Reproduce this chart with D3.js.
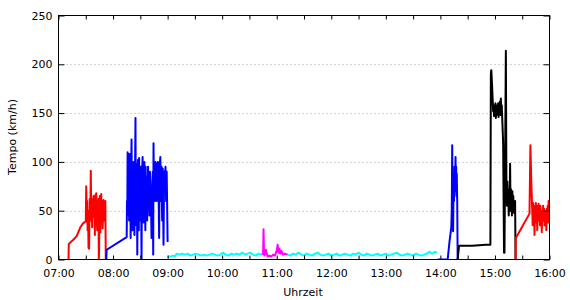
<!DOCTYPE html>
<html><head><meta charset="utf-8">
<script src="https://cdn.jsdelivr.net/npm/d3@7"></script>
<style>
html,body{margin:0;padding:0;background:#fff;}
svg{display:block;font-family:"DejaVu Sans",Verdana,sans-serif;}
</style></head>
<body>
<svg id="chart" width="570" height="300"></svg>
<script>
// ---- data ----
const xTickLabels = ["07:00","08:00","09:00","10:00","11:00","12:00","13:00","14:00","15:00","16:00"];
const yTickValues = [0, 50, 100, 150, 200, 250];
const gridValues = [50, 100, 150, 200];
const timeDomain = ["07:00:00", "16:00:00"];
const speedDomain = [0, 250];

const red1 = [
["07:11:00",0],["07:11:20",16],["07:16:00",20],["07:20:00",24],["07:24:00",33],["07:27:00",37],["07:30:00",39],
["07:30:30",75],["07:31:00",45],["07:31:30",60],["07:32:00",30],["07:32:30",50],["07:33:00",12],["07:33:40",11],
["07:34:20",62],["07:35:00",40],["07:35:30",91],["07:36:00",45],["07:36:30",62],["07:37:00",33],["07:37:30",58],
["07:38:00",44],["07:38:30",65],["07:39:00",48],["07:39:30",62],["07:40:00",25],["07:40:30",66],["07:41:00",38],
["07:41:30",68],["07:42:00",50],["07:42:30",30],["07:43:00",60],["07:43:30",45],["07:44:00",62],["07:44:20",0],
["07:44:40",10],["07:45:00",40],["07:45:30",65],["07:46:00",28],["07:46:30",58],["07:47:00",67],["07:47:30",45],
["07:48:00",60],["07:48:30",32],["07:49:00",55],["07:49:30",61],["07:50:00",40],["07:50:30",58],["07:51:00",45],
["07:51:30",60],["07:52:00",0]
];
const blue1 = [
["07:52:30",0],["07:53:00",10],["08:15:00",23],["08:15:20",60],["08:15:40",45],["08:16:00",110],["08:16:20",55],
["08:16:40",95],["08:17:00",70],["08:17:20",108],["08:17:40",40],["08:18:00",90],["08:18:20",60],["08:18:40",108],
["08:19:00",75],["08:19:20",22],["08:19:40",50],["08:20:00",95],["08:20:20",123],["08:20:40",45],["08:21:00",95],
["08:21:20",30],["08:21:40",80],["08:22:00",60],["08:22:20",100],["08:22:40",40],["08:23:00",90],["08:23:30",25],
["08:24:00",70],["08:24:40",145],["08:25:00",55],["08:25:20",98],["08:25:40",35],["08:26:00",85],["08:26:20",60],
["08:26:40",5],["08:27:00",70],["08:27:20",102],["08:27:40",45],["08:28:00",88],["08:28:20",30],["08:28:40",104],
["08:29:00",55],["08:29:20",95],["08:29:40",40],["08:30:00",80],["08:30:20",60],["08:30:40",95],["08:31:00",45],
["08:31:20",0],["08:31:40",65],["08:32:00",90],["08:32:30",105],["08:32:50",50],["08:33:10",95],["08:33:30",38],
["08:33:50",85],["08:34:10",60],["08:34:30",100],["08:34:50",45],["08:35:10",78],["08:35:30",30],["08:35:50",95],
["08:36:10",50],["08:36:40",85],["08:37:00",65],["08:37:30",40],["08:38:00",72],["08:38:30",95],["08:39:00",55],
["08:39:30",80],["08:40:00",45],["08:40:30",90],["08:41:00",80],["08:41:40",60],["08:42:20",22],["08:43:00",60],
["08:43:40",90],["08:44:10",5],["08:44:30",119],["08:45:00",70],["08:45:30",100],["08:46:00",60],["08:46:40",100],
["08:47:20",97],["08:48:00",60],["08:48:40",92],["08:49:20",100],["08:50:00",75],["08:50:40",22],["08:51:20",96],
["08:52:00",105],["08:52:40",60],["08:53:20",95],["08:54:00",40],["08:54:40",93],["08:55:30",15],["08:56:10",90],
["08:56:50",80],["08:57:40",95],["08:58:20",60],["08:59:00",90],["09:00:00",18]
];
const cyan1 = [
["09:00:00",3],["09:03:00",3],["09:06:00",4],["09:08:00",3],["09:10:00",6],["09:13:00",5],["09:16:00",6],
["09:19:00",5],["09:22:00",6],["09:25:00",4],["09:28:00",5],["09:31:00",6],["09:34:00",5],["09:37:00",4],
["09:40:00",5],["09:43:00",4],["09:46:00",5],["09:49:00",6],["09:52:00",5],["09:55:00",4],["09:58:00",5],
["10:01:00",7],["10:04:00",5],["10:07:00",4],["10:10:00",6],["10:13:00",5],["10:16:00",6],["10:19:00",5],
["10:22:00",7],["10:25:00",5],["10:28:00",6],["10:31:00",7],["10:34:00",5],["10:37:00",4],["10:40:00",6],
["10:43:00",5],["10:44:00",5]
];
const magenta = [
["10:44:00",5],["10:45:00",6],["10:45:30",31],["10:46:00",8],["10:46:30",4],["10:47:00",6],["10:48:00",10],
["10:49:00",6],["10:50:00",3],["10:52:00",4],["10:54:00",3],["10:56:00",5],["10:58:00",4],["11:00:00",9],
["11:01:00",15],["11:02:00",7],["11:03:00",11],["11:04:00",6],["11:05:00",9],["11:07:00",5],["11:09:00",6],
["11:12:00",5]
];
const cyan2 = [
["11:12:00",5],["11:15:00",4],["11:18:00",6],["11:21:00",5],["11:24:00",7],["11:27:00",5],["11:30:00",4],
["11:33:00",6],["11:36:00",5],["11:39:00",4],["11:42:00",6],["11:45:00",7],["11:48:00",5],["11:51:00",4],
["11:54:00",5],["11:57:00",6],["12:00:00",4],["12:03:00",5],["12:06:00",6],["12:09:00",4],["12:12:00",5],
["12:15:00",6],["12:18:00",5],["12:21:00",4],["12:24:00",6],["12:27:00",5],["12:30:00",7],["12:33:00",5],
["12:36:00",4],["12:39:00",6],["12:42:00",5],["12:45:00",4],["12:48:00",5],["12:51:00",6],["12:54:00",4],
["12:57:00",5],["13:00:00",6],["13:03:00",4],["13:06:00",5],["13:09:00",6],["13:12:00",7],["13:15:00",5],
["13:18:00",4],["13:21:00",5],["13:24:00",6],["13:27:00",5],["13:30:00",4],["13:33:00",6],["13:36:00",5],
["13:39:00",4],["13:42:00",5],["13:45:00",6],["13:48:00",8],["13:51:00",6],["13:54:00",8],["13:56:00",7]
];
const blue2 = [
["13:57:00",0],["14:08:00",0],["14:10:00",18],["14:12:00",33],["14:12:30",50],["14:13:00",117],["14:13:30",45],
["14:14:00",29],["14:14:30",80],["14:15:00",60],["14:15:30",95],["14:16:00",70],["14:16:40",105],["14:17:00",75],
["14:17:20",95],["14:17:40",65],["14:18:00",88],["14:18:30",60],["14:19:00",0]
];
const black = [
["14:19:00",0],["14:20:30",14],["14:35:00",14],["14:50:00",15],["14:55:00",15],["14:55:30",190],["14:56:00",194],
["14:56:30",185],["14:57:00",175],["14:58:00",152],["14:58:30",158],["14:59:00",147],["14:59:30",155],
["15:00:00",150],["15:00:30",160],["15:01:00",145],["15:01:30",155],["15:02:00",148],["15:02:30",158],
["15:03:00",150],["15:03:30",160],["15:04:00",146],["15:04:30",155],["15:05:00",150],["15:05:30",162],
["15:06:00",148],["15:06:30",165],["15:07:00",150],["15:07:30",158],["15:08:00",145],["15:09:00",120],
["15:10:00",7],["15:10:30",7],["15:12:00",214],["15:12:40",70],["15:13:10",55],["15:13:40",80],["15:14:10",60],
["15:14:40",72],["15:15:10",45],["15:15:40",68],["15:16:10",58],["15:16:40",98],["15:17:10",50],["15:17:40",72],
["15:18:10",62],["15:18:40",45],["15:19:10",70],["15:19:40",55],["15:20:10",65],["15:20:40",48],["15:21:10",60],
["15:21:40",50],["15:22:10",60],["15:22:40",0]
];
const red2 = [
["15:22:40",0],["15:23:00",22],["15:38:00",47],["15:39:00",117],["15:40:00",80],["15:41:00",50],["15:41:30",35],
["15:42:00",58],["15:42:30",40],["15:43:00",55],["15:43:30",25],["15:44:00",52],["15:44:30",45],["15:45:00",58],
["15:45:30",38],["15:46:00",55],["15:46:30",30],["15:47:00",50],["15:47:30",45],["15:48:00",57],["15:48:30",40],
["15:49:00",52],["15:49:30",35],["15:50:00",55],["15:50:30",42],["15:51:00",50],["15:51:30",28],["15:52:00",48],
["15:52:30",40],["15:53:00",55],["15:53:30",45],["15:54:00",52],["15:54:30",35],["15:55:00",50],["15:55:30",42],
["15:56:00",48],["15:56:30",30],["15:57:00",52],["15:57:30",40],["15:58:00",55],["15:58:30",38],["15:59:00",60],
["15:59:30",45],["16:00:00",55]
];
const seriesList = [
  {data: red1, color: "#ff0000"},
  {data: blue1, color: "#0000ff"},
  {data: cyan1, color: "#00ffff"},
  {data: cyan2, color: "#00ffff"},
  {data: magenta, color: "#ff00ff"},
  {data: blue2, color: "#0000ff"},
  {data: black, color: "#000000"},
  {data: red2, color: "#ff0000"}
];

// ---- chart ----
const svg = d3.select("#chart");
const L = 58.5, R = 549.5, T = 15.5, B = 259.5;
const parseT = d3.timeParse("%H:%M:%S");
const parseHM = d3.timeParse("%H:%M");
const fmt = d3.timeFormat("%H:%M");

const x = d3.scaleTime().domain(timeDomain.map(parseT)).range([L, R]);
const y = d3.scaleLinear().domain(speedDomain).range([B, T]);

// grid
svg.append("g").selectAll("line").data(gridValues).join("line")
  .attr("x1", L).attr("x2", R)
  .attr("y1", d => Math.round(y(d)) + 0.5).attr("y2", d => Math.round(y(d)) + 0.5)
  .attr("stroke", "#a8a8a8").attr("stroke-width", 1).attr("stroke-dasharray", "1,3");

// clip
svg.append("defs").append("clipPath").attr("id", "clip")
  .append("rect").attr("x", L).attr("y", T).attr("width", R - L).attr("height", B - T);

const line = d3.line().x(d => x(parseT(d[0]))).y(d => y(d[1]));
const lines = svg.append("g").attr("clip-path", "url(#clip)");
seriesList.forEach(s => {
  lines.append("path").datum(s.data)
    .attr("d", line).attr("fill", "none")
    .attr("stroke", s.color).attr("stroke-width", 2)
    .attr("stroke-linejoin", "round");
});

// ticks
const hourTicks = xTickLabels.map(parseHM);
const halfTicks = d3.timeMinute.every(30).range(x.domain()[0], d3.timeMinute.offset(x.domain()[1], 1));
const labelSet = new Set(xTickLabels);

function styleAxis(g) {
  g.select(".domain").remove();
  g.selectAll(".tick line").attr("stroke", "#000");
  g.selectAll("text").attr("font-size", 11).attr("fill", "#000")
    .attr("font-family", "'DejaVu Sans', Verdana, sans-serif");
}

svg.append("g").attr("transform", `translate(0,${B})`)
  .call(d3.axisBottom(x).tickValues(halfTicks).tickSize(-4).tickPadding(10)
    .tickFormat(d => labelSet.has(fmt(d)) ? fmt(d) : ""))
  .call(styleAxis);
svg.append("g").attr("transform", `translate(0,${T})`)
  .call(d3.axisTop(x).tickValues(halfTicks).tickSize(-4).tickFormat(""))
  .call(styleAxis);
svg.append("g").attr("transform", `translate(${L},0)`)
  .call(d3.axisLeft(y).tickValues(yTickValues).tickSize(-6).tickPadding(6))
  .call(styleAxis);
svg.append("g").attr("transform", `translate(${R},0)`)
  .call(d3.axisRight(y).tickValues(yTickValues).tickSize(-6).tickFormat(""))
  .call(styleAxis);

// border
svg.append("rect").attr("x", L).attr("y", T).attr("width", R - L).attr("height", B - T)
  .attr("fill", "none").attr("stroke", "#000").attr("stroke-width", 1);

// titles
svg.append("text").attr("x", 303).attr("y", 296).attr("text-anchor", "middle")
  .attr("font-size", 11).attr("fill", "#000").text("Uhrzeit");
svg.append("text").attr("transform", "translate(16,137) rotate(-90)").attr("text-anchor", "middle")
  .attr("font-size", 11).attr("fill", "#000").text("Tempo (km/h)");
</script>
</body></html>
